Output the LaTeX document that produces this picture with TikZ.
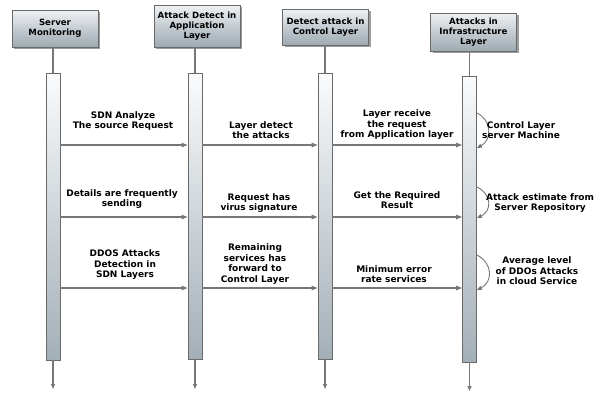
\documentclass[tikz,border=0pt]{standalone}
\usepackage{fontspec}
\setmainfont{DejaVu Sans}[BoldFont={DejaVu Sans Bold}]
\newfontfamily\labelfont{DejaVu Sans Bold}
\usetikzlibrary{arrows.meta,shadows}
\definecolor{lifegray}{HTML}{777777}
\definecolor{boxtop}{HTML}{EEF1F3}
\definecolor{boxbot}{HTML}{9DA9B1}
\definecolor{bartop}{HTML}{FAFBFC}
\definecolor{barbot}{HTML}{A3AFB7}
\definecolor{edge}{HTML}{6A6A6A}
\tikzset{
  header/.style={draw=edge, line width=0.8pt, top color=boxtop, bottom color=boxbot,
    minimum width=86pt, align=center, inner sep=1pt,
    font=\labelfont\fontsize{8.6}{9.8}\selectfont,
    drop shadow={shadow xshift=2pt, shadow yshift=-2pt, fill=black!55, opacity=0.7}},
  activation/.style={draw=edge, line width=0.8pt, top color=bartop, bottom color=barbot,
    minimum width=14pt, inner sep=0pt},
  lifeline/.style={draw=lifegray, line width=1.4pt},
  tail/.style={draw=lifegray, line width=1.2pt, -{Triangle[length=5pt,width=4pt]}},
  msg/.style={draw=lifegray, line width=1.1pt, -{Triangle[length=6pt,width=4.5pt]}},
  selfmsg/.style={draw=lifegray, line width=0.9pt, -{Triangle[length=5pt,width=4pt]}},
  lbl/.style={align=center, inner sep=0pt, font=\labelfont\fontsize{9}{10.5}\selectfont},
}
\begin{document}
\begin{tikzpicture}[x=1pt,y=-1pt]
\useasboundingbox (0,0) rectangle (595,392);

% participant headers
\node[header, minimum height=37pt] (h1) at (55,28.5) {Server\\Monitoring};
\node[header, minimum height=42pt] (h2) at (197,26) {Attack Detect in\\Application\\Layer};
\node[header, minimum height=36pt] (h3) at (325.5,27) {Detect attack in\\Control Layer};
\node[header, minimum height=38pt] (h4) at (473.5,32) {Attacks in\\Infrastructure\\Layer};

% activation bars
\node[activation, minimum height=287pt] (b1) at (53,216.5) {};
\node[activation, minimum height=286pt] (b2) at (195,216) {};
\node[activation, minimum height=286pt] (b3) at (325,216) {};
\node[activation, minimum height=286pt] (b4) at (469.5,219) {};

% lifelines above and below the bars
\coordinate (e1) at (53,389);
\coordinate (e2) at (195,389);
\coordinate (e3) at (325,389);
\coordinate (e4) at (469.5,391);
\draw[lifeline] (h1.south -| b1) -- (b1.north);
\draw[lifeline] (h2.south -| b2) -- (b2.north);
\draw[lifeline] (h3.south -| b3) -- (b3.north);
\draw[lifeline] (h4.south -| b4) -- (b4.north);
\draw[tail] (b1.south) -- (e1);
\draw[tail] (b2.south) -- (e2);
\draw[tail] (b3.south) -- (e3);
\draw[tail] (b4.south) -- (e4);

% messages, row by row
\foreach \y in {145,217,288}{
  \draw[msg] (b1.east |- 0,\y) -- (b2.west |- 0,\y);
  \draw[msg] (b2.east |- 0,\y) -- (b3.west |- 0,\y);
  \draw[msg] (b3.east |- 0,\y) -- (b4.west |- 0,\y);
}

% self calls on the infrastructure layer
\draw[selfmsg] (b4.east |- 0,113) .. controls (492,120) and (492,140) .. (b4.east |- 0,148);
\draw[selfmsg] (b4.east |- 0,187) .. controls (492,194) and (492,211) .. (b4.east |- 0,218);
\draw[selfmsg] (b4.east |- 0,255) .. controls (493,263) and (493,282) .. (b4.east |- 0,290);

% message labels
\node[lbl] (m11) at (123,121) {SDN Analyze\\The source Request};
\node[lbl] (m12) at (261,130) {Layer detect\\the attacks};
\node[lbl] (m13) at (397,125) {Layer receive\\the request\\from Application layer};
\node[lbl, anchor=west] (m14) at (482,130) {Control Layer\\server Machine};

\node[lbl] (m21) at (122,199) {Details are frequently\\sending};
\node[lbl] (m22) at (259,203) {Request has\\virus signature};
\node[lbl] (m23) at (397,200) {Get the Required\\Result};
\node[lbl, anchor=west] (m24) at (486,203) {Attack estimate from\\Server Repository};

\node[lbl] (m31) at (125,265) {DDOS Attacks\\Detection in\\SDN Layers};
\node[lbl] (m32) at (255,264) {Remaining\\services has\\forward to\\Control Layer};
\node[lbl] (m33) at (394,274) {Minimum error\\rate services};
\node[lbl] (m34) at (537,271) {Average level\\of DDOs Attacks\\in cloud Service};
\end{tikzpicture}
\end{document}
